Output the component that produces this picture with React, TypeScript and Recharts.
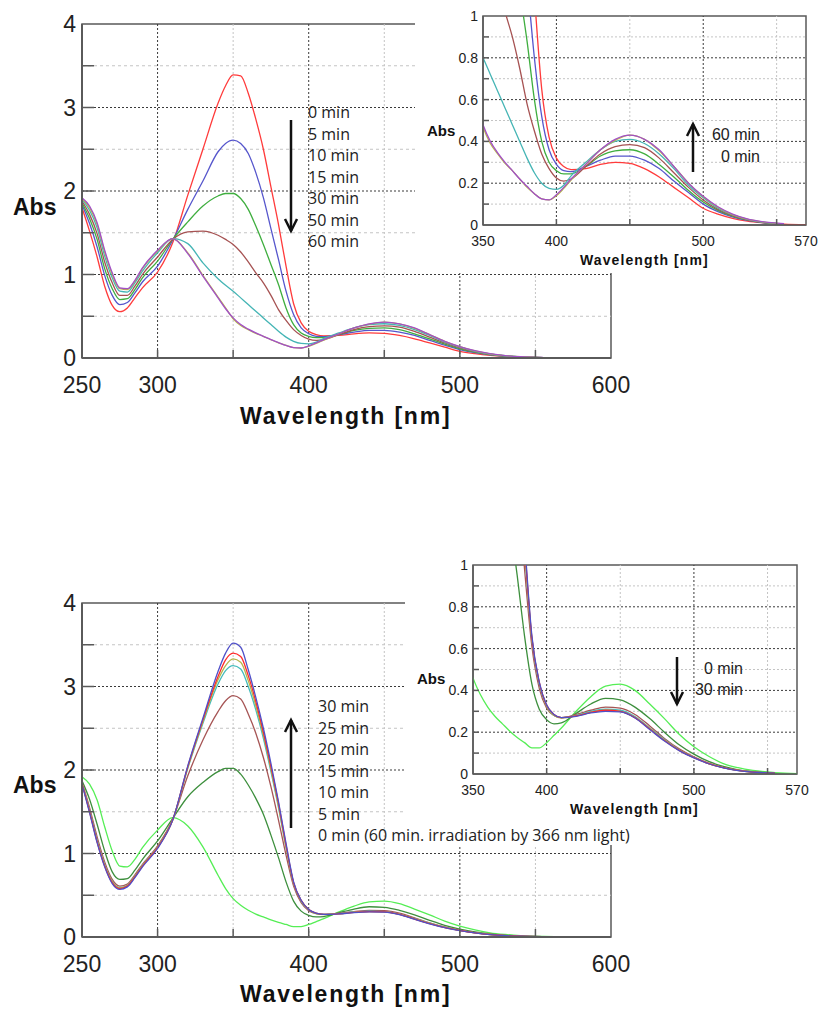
import React from 'react';
import { LineChart, Line, XAxis, YAxis, ReferenceLine, ReferenceArea } from 'recharts';

// ---------- data ----------
const wavelengths = [250,255,260,265,270,275,280,285,290,300,310,320,330,340,345,350,355,360,365,370,375,380,385,390,395,400,405,410,420,430,440,450,460,470,480,490,500,510,520,530,540,555,570,585,600];

// Upper panel (irradiation 366 nm)
const topRed0 = [1.80,1.52,1.21,0.86,0.63,0.555,0.60,0.72,0.84, 1.03,1.38,1.95,2.50,3.05, 3.26,3.39,3.38,3.17,2.86,2.50,2.05,1.60,1.10,0.65,0.42,0.32,0.28,0.265, 0.27,0.29,0.30,0.295,0.27,0.23,0.18,0.13,0.08,0.052,0.032,0.019,0.011, 0.004,0.001,0,0];
const topBlue5 = [1.84,1.61,1.33,0.99,0.75,0.64,0.665,0.78,0.91, 1.10,1.41,1.78,2.12,2.47, 2.57,2.61,2.57,2.45,2.22,1.92,1.55,1.18,0.80,0.52,0.36,0.29,0.26,0.255, 0.28,0.31,0.33,0.33,0.31,0.27,0.21,0.155,0.10,0.064,0.039,0.022,0.012, 0.005,null,null,null];
const topGreen10 = [1.86,1.67,1.42,1.07,0.83,0.70,0.71,0.82,0.96, 1.16,1.42,1.63,1.82,1.94, 1.97,1.97,1.91,1.78,1.58,1.36,1.12,0.88,0.60,0.40,0.30,0.26,0.245,0.245, 0.28,0.33,0.355,0.36,0.34,0.29,0.23,0.165,0.11,0.07,0.042,0.024,0.013, 0.005,null,null,null];
const topBrown15 = [1.88,1.72,1.49,1.15,0.90,0.75,0.75,0.86,1.00, 1.21,1.42,1.51,1.52,1.47, 1.42,1.36,1.27,1.15,1.02,0.90,0.75,0.58,0.45,0.34,0.27,0.225,0.21,0.22, 0.28,0.34,0.375,0.385,0.37,0.32,0.25,0.18,0.12,0.075,0.045,0.025,0.013, 0.005,null,null,null];
const topCyan30 = [1.90,1.77,1.56,1.22,0.96,0.80,0.79,0.90,1.04, 1.26,1.43,1.37,1.14,0.95, 0.87,0.80,0.72,0.64,0.56,0.48,0.40,0.32,0.25,0.20,0.175,0.17,0.19,0.235, 0.30,0.36,0.40,0.41,0.39,0.34,0.27,0.19,0.13,0.08,0.048,0.027,0.014, 0.005,null,null,null];
const topOlive50 = [1.91,1.80,1.60,1.27,1.00,0.83,0.82,0.92,1.07, 1.28,1.43,1.26,0.99,0.73, 0.60,0.47,0.39,0.34,0.295,0.26,0.22,0.18,0.15,0.125,0.12,0.14,0.175,0.215, 0.29,0.36,0.405,0.43,0.41,0.355,0.28,0.20,0.135,0.085,0.05,0.028,0.015, 0.005,null,null,null];
const topPurple60 = [1.92,1.82,1.62,1.29,1.02,0.84,0.83,0.93,1.08, 1.29,1.43,1.25,0.98,0.72, 0.59,0.48,0.40,0.345,0.30,0.26,0.22,0.185,0.15,0.125,0.12,0.145,0.18,0.22, 0.29,0.36,0.41,0.43,0.41,0.36,0.28,0.20,0.137,0.087,0.052,0.029,0.016, 0.006,null,null,null];

// Lower panel (recovery in dark)
const botGreen0 = [1.92,1.83,1.64,1.32,1.03,0.85,0.84,0.93,1.07, 1.28,1.43,1.33,1.08,0.74, 0.58,0.46,0.38,0.32,0.275,0.24,0.205,0.175,0.15,0.125,0.125,0.15,0.185,0.22, 0.30,0.37,0.42,0.43,0.40,0.335,0.265,0.19,0.13,0.085,0.05,0.03,0.017, 0.007,0.002,0,0];
const botDkGreen5 = [1.87,1.65,1.35,1.03,0.78,0.69,0.70,0.80,0.93, 1.15,1.42,1.68,1.85,1.98, 2.02,2.02,1.95,1.82,1.66,1.47,1.22,0.95,0.66,0.43,0.31,0.26,0.24,0.245, 0.29,0.335,0.362,0.355,0.32,0.265,0.20,0.14,0.095,0.06,0.036,0.02,0.011, 0.004,null,null,null];
const botBrown10 = [1.85,1.55,1.20,0.90,0.69,0.61,0.635,0.745,0.87, 1.09,1.41,1.93,2.36,2.70, 2.83,2.89,2.85,2.67,2.44,2.15,1.80,1.40,0.98,0.61,0.41,0.315,0.28,0.27, 0.285,0.305,0.32,0.315,0.285,0.23,0.17,0.12,0.082,0.052,0.031,0.018,0.01, 0.004,null,null,null];
const botCyan15 = [1.84,1.52,1.16,0.87,0.665,0.59,0.62,0.73,0.86, 1.08,1.40,2.02,2.56,3.03, 3.19,3.25,3.21,3.00,2.72,2.38,1.98,1.55,1.07,0.64,0.43,0.325,0.28,0.27, 0.28,0.30,0.31,0.305,0.275,0.22,0.165,0.115,0.08,0.05,0.03,0.017,0.009, 0.004,null,null,null];
const botOlive20 = [1.84,1.51,1.15,0.86,0.66,0.585,0.615,0.725,0.855, 1.075,1.40,2.03,2.58,3.08, 3.25,3.33,3.29,3.07,2.77,2.42,2.01,1.57,1.08,0.645,0.435,0.325,0.28,0.268, 0.278,0.295,0.305,0.30,0.27,0.218,0.162,0.114,0.079,0.05,0.03,0.017,0.009, 0.004,null,null,null];
const botRed25 = [1.84,1.50,1.14,0.85,0.65,0.58,0.61,0.72,0.85, 1.07,1.40,2.04,2.60,3.12, 3.32,3.40,3.36,3.13,2.82,2.45,2.04,1.60,1.10,0.65,0.44,0.33,0.285,0.27, 0.278,0.295,0.305,0.30,0.27,0.215,0.16,0.113,0.078,0.05,0.03,0.017,0.009, 0.004,null,null,null];
const botBlue30 = [1.83,1.49,1.13,0.84,0.64,0.57,0.60,0.71,0.84, 1.06,1.40,2.05,2.62,3.18, 3.40,3.52,3.47,3.20,2.87,2.50,2.08,1.62,1.12,0.66,0.44,0.33,0.285,0.27, 0.276,0.292,0.30,0.297,0.268,0.213,0.158,0.112,0.077,0.049,0.029,0.016,0.009, 0.004,null,null,null];

const mainXTicks = [250,300,350,400,450,500,550,600];
const mainXLabels = [250,300,400,500,600];
const mainYTicks = [0,0.5,1,1.5,2,2.5,3,3.5,4];
const mainYLabels = [0,1,2,3,4];
const insetXTicks = [350,400,450,500,550,570];
const insetXLabels = [350,400,500,570];
const insetYTicks = [0,0.1,0.2,0.3,0.4,0.5,0.6,0.7,0.8,0.9,1];
const insetYLabels = [0,0.2,0.4,0.6,0.8,1];

const topLegend = ['0 min','5 min','10 min','15 min','30 min','50 min','60 min'];
const bottomLegend = ['30 min','25 min','20 min','15 min','10 min','5 min','0 min (60 min. irradiation by 366 nm light)'];
const topInsetLegend = ['60 min','0 min'];
const bottomInsetLegend = ['0 min','30 min'];

type Series = { key: string; color: string; values: (number | null)[] };

const topSeries: Series[] = [
  { key: 'red0', color: '#ff3b3b', values: topRed0 },
  { key: 'blue5', color: '#5656cc', values: topBlue5 },
  { key: 'green10', color: '#3fae3f', values: topGreen10 },
  { key: 'brown15', color: '#a65252', values: topBrown15 },
  { key: 'cyan30', color: '#45b5b5', values: topCyan30 },
  { key: 'olive50', color: '#b8b84a', values: topOlive50 },
  { key: 'purple60', color: '#a24fc8', values: topPurple60 },
];
const bottomSeries: Series[] = [
  { key: 'g0', color: '#55ee55', values: botGreen0 },
  { key: 'dg5', color: '#3d8f3d', values: botDkGreen5 },
  { key: 'br10', color: '#a65555', values: botBrown10 },
  { key: 'cy15', color: '#45bcbc', values: botCyan15 },
  { key: 'ol20', color: '#b5b54a', values: botOlive20 },
  { key: 'rd25', color: '#ff2a2a', values: botRed25 },
  { key: 'bl30', color: '#5050c8', values: botBlue30 },
];

function rowsFor(series: Series[]) {
  return wavelengths.map((w, i) => {
    const row: Record<string, number | null> = { w };
    for (const s of series) row[s.key] = s.values[i];
    return row;
  });
}
const topRows = rowsFor(topSeries);
const bottomRows = rowsFor(bottomSeries);

// ---------- styling helpers ----------
const ARIAL = '"Liberation Sans", Arial, sans-serif';
const LEGEND_FONT = '"Open Sans", "Noto Sans", sans-serif';
const AXIS = '#5a5a5a';
const DARK_GRID = '#3a3a3a';
const LIGHT_GRID = '#c4c4c4';

function makeXTick(labels: number[], inner: number[], fontSize: number, labelOffset: number, tickLen: number) {
  return (props: any) => {
    const { x, y, payload } = props;
    const v = payload.value;
    return (
      <g>
        {inner.includes(v) && <line x1={x} x2={x} y1={y} y2={y - tickLen} stroke={AXIS} strokeWidth={1.5} />}
        {labels.includes(v) && (
          <text x={x} y={y + labelOffset} textAnchor="middle" fontSize={fontSize} fontFamily={ARIAL} fill="#222">{String(v)}</text>
        )}
      </g>
    );
  };
}
function makeYTick(labels: number[], inner: number[], fontSize: number, gap: number, tickLen: number) {
  return (props: any) => {
    const { x, y, payload } = props;
    const v = payload.value;
    return (
      <g>
        {inner.includes(v) && <line x1={x} x2={x + tickLen} y1={y} y2={y} stroke={AXIS} strokeWidth={1.5} />}
        {labels.includes(v) && (
          <text x={x - gap} y={y + fontSize * 0.36} textAnchor="end" fontSize={fontSize} fontFamily={ARIAL} fill="#222">{String(v)}</text>
        )}
      </g>
    );
  };
}

const mainXTick = makeXTick(mainXLabels, [300,350,400,450,500,550], 23, 35, 8);
const mainYTick = makeYTick(mainYLabels, [0.5,1,1.5,2,2.5,3,3.5], 23, 6, 12);
const insetXTick = makeXTick(insetXLabels, [400,450,500,550], 14, 21, 6);
const insetYTick = makeYTick(insetYLabels, [0.1,0.2,0.3,0.4,0.5,0.6,0.7,0.8,0.9], 14, 5, 6);

function MainPanel({ rows, series, top }: { rows: any[]; series: Series[]; top: number }) {
  return (
    <div style={{ position: 'absolute', left: 0, top: top - 43, width: 640, height: 420 }}>
      <LineChart width={640} height={420} data={rows} margin={{ top: 43, right: 29, left: 0, bottom: 0 }}>
        <XAxis dataKey="w" type="number" domain={[250, 600]} ticks={mainXTicks} interval={0}
          tick={mainXTick} tickLine={false} tickSize={0} tickMargin={0} height={43} axisLine={{ stroke: AXIS, strokeWidth: 2 }} />
        <YAxis type="number" domain={[0, 4]} ticks={mainYTicks} interval={0} width={82}
          tick={mainYTick} tickLine={false} tickSize={0} tickMargin={0} axisLine={{ stroke: AXIS, strokeWidth: 2 }} />
        {[350, 450, 550].map((v) => <ReferenceLine key={'lx' + v} x={v} stroke={LIGHT_GRID} strokeDasharray="2 2" />)}
        {[300, 400, 500].map((v) => <ReferenceLine key={'dx' + v} x={v} stroke={DARK_GRID} strokeDasharray="2 2" />)}
        {[0.5, 1.5, 2.5, 3.5].map((v) => <ReferenceLine key={'ly' + v} y={v} stroke={LIGHT_GRID} strokeDasharray="3 3" />)}
        {[1, 2, 3].map((v) => <ReferenceLine key={'dy' + v} y={v} stroke={DARK_GRID} strokeDasharray="2 2" />)}
        <ReferenceArea x1={250} x2={600} y1={0} y2={4} fill="none" stroke={AXIS} strokeWidth={1.5} />
        {series.map((s) => (
          <Line key={s.key} dataKey={s.key} type="monotone" stroke={s.color} strokeWidth={1.3} dot={false} isAnimationActive={false} />
        ))}
      </LineChart>
    </div>
  );
}

function InsetPanel({ rows, series, left, top, width, height, plotLeft, plotTop, plotRight, plotBottom }:
  { rows: any[]; series: Series[]; left: number; top: number; width: number; height: number; plotLeft: number; plotTop: number; plotRight: number; plotBottom: number }) {
  return (
    <div style={{ position: 'absolute', left, top, width, height, background: '#fff' }}>
      <LineChart width={width} height={height} data={rows}
        margin={{ top: plotTop - top, right: left + width - plotRight, left: 0, bottom: 0 }}>
        <XAxis dataKey="w" type="number" domain={[350, 570]} allowDataOverflow ticks={insetXTicks} interval={0}
          tick={insetXTick} tickLine={false} tickSize={0} tickMargin={0} height={top + height - plotBottom} axisLine={{ stroke: AXIS, strokeWidth: 1.5 }} />
        <YAxis type="number" domain={[0, 1]} allowDataOverflow ticks={insetYTicks} interval={0} width={plotLeft - left}
          tick={insetYTick} tickLine={false} tickSize={0} tickMargin={0} axisLine={{ stroke: AXIS, strokeWidth: 1.5 }} />
        {[450, 550].map((v) => <ReferenceLine key={'lx' + v} x={v} stroke={LIGHT_GRID} strokeDasharray="2 2" />)}
        {[400, 500].map((v) => <ReferenceLine key={'dx' + v} x={v} stroke={DARK_GRID} strokeDasharray="2 2" />)}
        {[0.1, 0.3, 0.5, 0.7, 0.9].map((v) => <ReferenceLine key={'ly' + v} y={v} stroke={LIGHT_GRID} strokeDasharray="2 2" />)}
        {[0.2, 0.4, 0.6, 0.8].map((v) => <ReferenceLine key={'dy' + v} y={v} stroke={DARK_GRID} strokeDasharray="2 2" />)}
        <ReferenceArea x1={350} x2={570} y1={0} y2={1} fill="none" stroke={AXIS} strokeWidth={1.5} />
        {series.map((s) => (
          <Line key={s.key} dataKey={s.key} type="monotone" stroke={s.color} strokeWidth={1.3} dot={false} isAnimationActive={false} />
        ))}
      </LineChart>
    </div>
  );
}

function Arrow({ x, y1, y2 }: { x: number; y1: number; y2: number }) {
  const dir = y2 > y1 ? 1 : -1;
  const hw = 6;
  const hl = 12;
  return (
    <g stroke="#111" strokeWidth={2.5} fill="none">
      <line x1={x} y1={y1} x2={x} y2={y2} />
      <polyline points={`${x - hw},${y2 - dir * hl} ${x},${y2} ${x + hw},${y2 - dir * hl}`} strokeLinejoin="miter" />
    </g>
  );
}

export default function App() {
  return (
    <div style={{ position: 'absolute', left: 0, top: 0, width: 823, height: 1010, background: '#fff', overflow: 'hidden' }}>
      <MainPanel rows={topRows} series={topSeries} top={24} />
      <MainPanel rows={bottomRows} series={bottomSeries} top={603} />
      <InsetPanel rows={topRows} series={topSeries} left={415} top={0} width={408} height={273}
        plotLeft={483} plotTop={16} plotRight={806} plotBottom={225} />
      <InsetPanel rows={bottomRows} series={bottomSeries} left={405} top={555} width={418} height={290}
        plotLeft={473} plotTop={565} plotRight={797} plotBottom={774} />
      <svg width={823} height={1010} style={{ position: 'absolute', left: 0, top: 0, pointerEvents: 'none' }}>
        <text x={13} y={215} fontSize={23} fontWeight="bold" fontFamily={ARIAL} fill="#111">Abs</text>
        <text x={240} y={424} fontSize={23} fontWeight="bold" fontFamily={ARIAL} letterSpacing={1.8} fill="#111">Wavelength [nm]</text>
        <text x={13} y={793} fontSize={23} fontWeight="bold" fontFamily={ARIAL} fill="#111">Abs</text>
        <text x={240} y={1002} fontSize={23} fontWeight="bold" fontFamily={ARIAL} letterSpacing={1.8} fill="#111">Wavelength [nm]</text>
        <text x={427} y={136} fontSize={15} fontWeight="bold" fontFamily={ARIAL} fill="#111">Abs</text>
        <text x={580} y={265} fontSize={14} fontWeight="bold" fontFamily={ARIAL} letterSpacing={1.1} fill="#111">Wavelength [nm]</text>
        <text x={417} y={684} fontSize={15} fontWeight="bold" fontFamily={ARIAL} fill="#111">Abs</text>
        <text x={570} y={814} fontSize={14} fontWeight="bold" fontFamily={ARIAL} letterSpacing={1.1} fill="#111">Wavelength [nm]</text>
        {topLegend.map((t, i) => (
          <text key={'tl' + i} x={308} y={118 + i * 21.5} fontSize={16} fontFamily={LEGEND_FONT} fill="#222">{t}</text>
        ))}
        {bottomLegend.map((t, i) => (
          <text key={'bl' + i} x={318} y={712 + i * 21.5} fontSize={16} fontFamily={LEGEND_FONT} fill="#222">{t}</text>
        ))}
        {topInsetLegend.map((t, i) => (
          <text key={'ti' + i} x={760} y={140 + i * 21.5} textAnchor="end" fontSize={16} fontFamily={ARIAL} fill="#222">{t}</text>
        ))}
        {bottomInsetLegend.map((t, i) => (
          <text key={'bi' + i} x={743} y={673.5 + i * 21.5} textAnchor="end" fontSize={16} fontFamily={ARIAL} fill="#222">{t}</text>
        ))}
        <Arrow x={291} y1={120} y2={231} />
        <Arrow x={693} y1={172} y2={124} />
        <Arrow x={291} y1={828} y2={720} />
        <Arrow x={677} y1={657} y2={704} />
      </svg>
    </div>
  );
}
